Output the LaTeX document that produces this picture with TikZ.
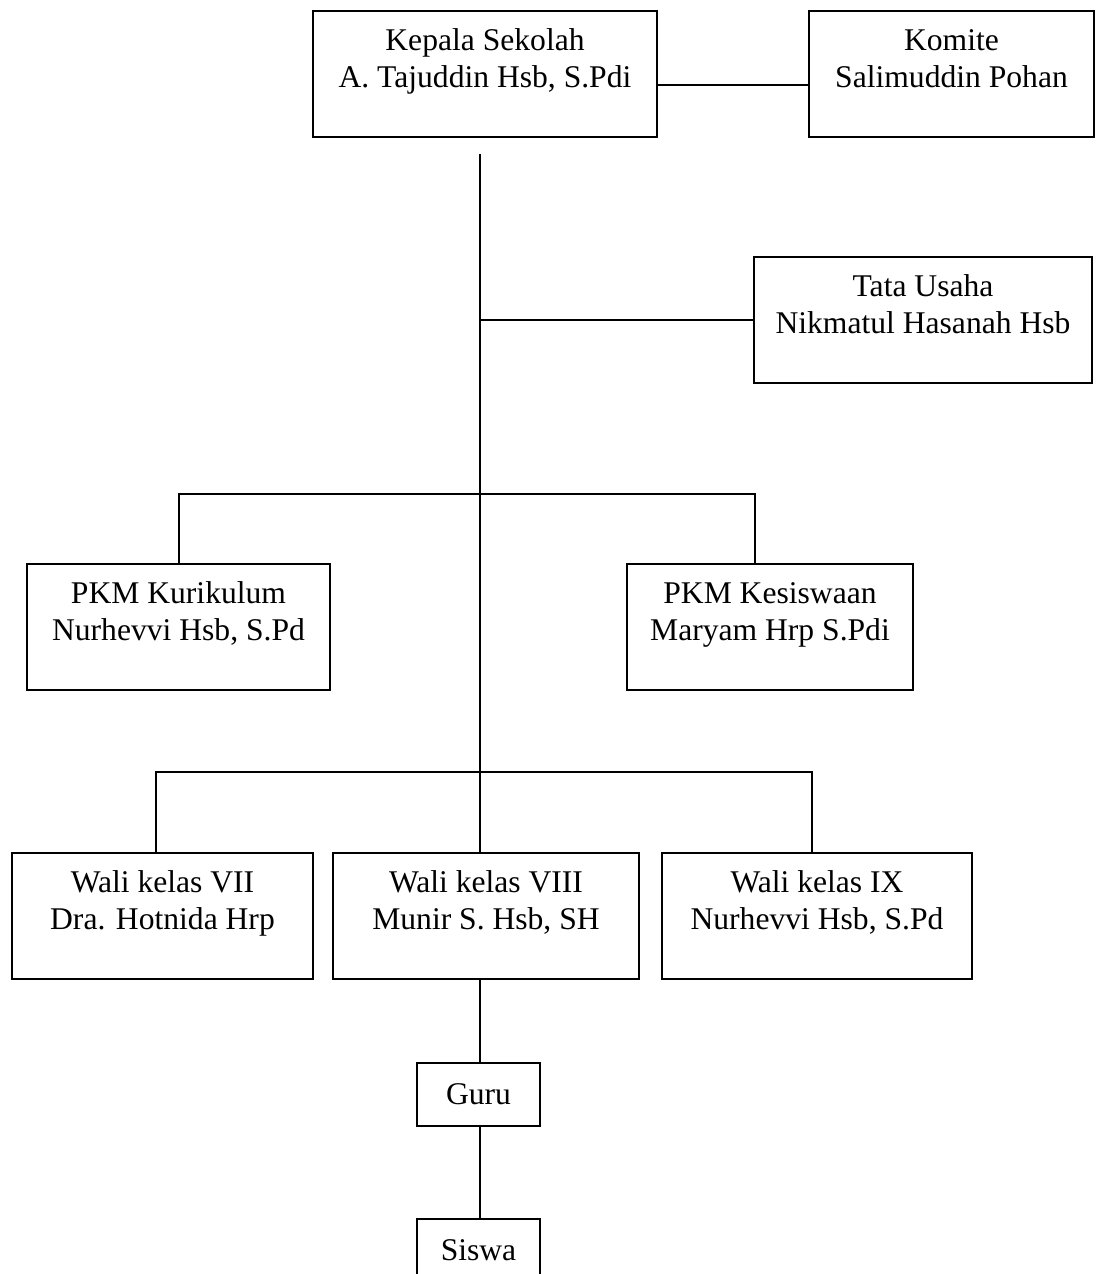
\documentclass[tikz,border=0pt]{standalone}
\usepackage{fontspec}
\setmainfont{Liberation Serif}
\usetikzlibrary{positioning}

\begin{document}
\begin{tikzpicture}[
  font=\fontsize{15.8pt}{18.5pt}\selectfont,
  box/.style={draw, line width=1pt, align=center, inner sep=0pt, text height=38pt, text depth=25pt},
  smallbox/.style={draw, line width=1pt, inner sep=0pt, minimum width=61.5pt, minimum height=31.5pt},
  link/.style={line width=1pt}]

  \useasboundingbox (0,0) rectangle (548pt,-637pt);
  \clip (0,0) rectangle (548pt,-637pt);

  % top row
  \node[box, minimum width=172pt, anchor=north west] (kepala) at (156pt,-5pt) {Kepala Sekolah\\A. Tajuddin Hsb, S.Pdi};
  \node[box, minimum width=142.5pt, right=75pt of kepala] (komite) {Komite\\Salimuddin Pohan};
  \draw[link] ([yshift=-5.5pt]kepala.east) -- ([yshift=-5.5pt]komite.west);

  % trunk
  \coordinate (top) at (240pt,-77pt);
  \node[box, minimum width=169pt, anchor=north west] (tata) at (376.5pt,-128pt) {Tata Usaha\\Nikmatul Hasanah Hsb};

  % wakil
  \node[box, minimum width=151.5pt, anchor=north west] (kurikulum) at (13pt,-281.5pt) {PKM Kurikulum\\Nurhevvi Hsb, S.Pd};
  \node[box, minimum width=143pt, right=147.5pt of kurikulum] (kesiswaan) {PKM Kesiswaan\\Maryam Hrp S.Pdi};

  % wali kelas
  \node[box, minimum width=150.5pt, anchor=north west] (wali7) at (5.5pt,-426pt) {Wali kelas VII\\Dra. Hotnida Hrp};
  \node[box, minimum width=153pt, right=9pt of wali7] (wali8) {Wali kelas VIII\\Munir S. Hsb, SH};
  \node[box, minimum width=155pt, right=10.5pt of wali8] (wali9) {Wali kelas IX\\Nurhevvi Hsb, S.Pd};

  \node[smallbox, anchor=north west] (guru) at (208pt,-531pt) {Guru};
  \node[smallbox, below=45.5pt of guru] (siswa) {Siswa};

  \draw[link] (top) -- (top |- wali8.north);
  \draw[link] (top |- tata.west) -- (tata.west);
  \draw[link] (kurikulum.north) -- ++(0,34.5pt) -| ([xshift=-7.5pt]kesiswaan.north);
  \draw[link] ([xshift=-3.25pt]wali7.north) -- ++(0,40pt) -| ([xshift=-2.5pt]wali9.north);
  \draw[link] (top |- wali8.south) -- (top |- guru.north);
  \draw[link] (top |- guru.south) -- (top |- siswa.north);
\end{tikzpicture}
\end{document}
